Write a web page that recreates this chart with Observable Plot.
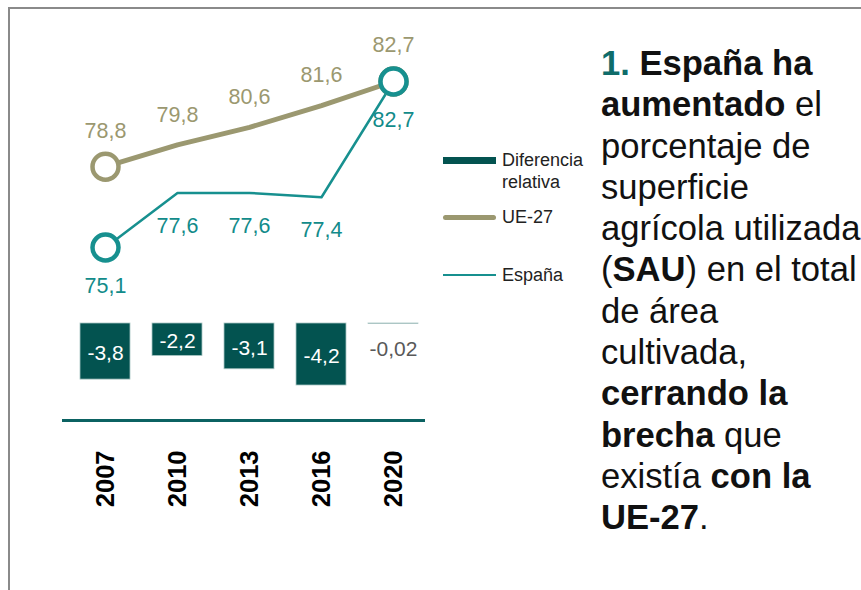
<!DOCTYPE html>
<html>
<head>
<meta charset="utf-8">
<script src="https://cdn.jsdelivr.net/npm/d3@7"></script>
<script src="https://cdn.jsdelivr.net/npm/@observablehq/plot@0.6"></script>
<style>
  html, body { margin: 0; padding: 0; background: #fff; }
  #wrap { position: relative; width: 861px; height: 590px; overflow: hidden; font-family: "Liberation Sans", Arial, sans-serif; }
  #border { position: absolute; left: 8px; top: 7px; right: -5px; bottom: -5px; border-top: 2px solid #8a8a8a; border-left: 2px solid #8a8a8a; }
  .layer { position: absolute; left: 0; top: 0; }
  .legend { position: absolute; font-size: 18px; color: #222; line-height: 22px; white-space: nowrap; }
  .sw { position: absolute; left: 443px; width: 53px; }
  #title { position: absolute; left: 601px; top: 43px; font-size: 34.6px; line-height: 41.3px; color: #111; white-space: nowrap; }
  #title b { font-weight: bold; }
  #title .num { color: #0f6c6a; font-weight: bold; }
</style>
</head>
<body>
<div id="wrap">
  <div id="border"></div>
  <div id="lines" class="layer"></div>
  <div id="bars" class="layer"></div>
  <div class="sw" style="top:157px;height:7px;background:#035350;"></div>
  <div class="legend" style="left:502px;top:149px;">Diferencia<br>relativa</div>
  <div class="sw" style="top:215px;height:4.5px;background:#9b9870;border-radius:3px;"></div>
  <div class="legend" style="left:502px;top:206px;">UE-27</div>
  <div class="sw" style="top:274px;height:2px;background:#17908f;"></div>
  <div class="legend" style="left:502px;top:264px;">España</div>
  <div id="title">
    <span class="num">1.</span> <b>España ha</b><br>
    <b>aumentado</b> el<br>
    porcentaje de<br>
    superficie<br>
    agrícola utilizada<br>
    (<b>SAU</b>) en el total<br>
    de área<br>
    cultivada,<br>
    <b>cerrando la</b><br>
    <b>brecha</b> que<br>
    existía <b>con la</b><br>
    <b>UE-27</b>.
  </div>
</div>
<script>
// ---- Data ----
const years = ["2007", "2010", "2013", "2016", "2020"];
const ue27 = [78.8, 79.8, 80.6, 81.6, 82.7];
const espana = [75.1, 77.6, 77.6, 77.4, 82.7];
const diferencia = [-3.8, -2.2, -3.1, -4.2, -0.02];

// ---- Derived tables ----
const fmt = v => String(v).replace(".", ",");
const ueData = years.map((y, i) => ({year: y, value: ue27[i]}));
const esData = years.map((y, i) => ({year: y, value: espana[i]}));
const diffData = years.map((y, i) => ({year: y, value: diferencia[i]}));
const ends = d => d.year === years[0] || d.year === years[years.length - 1];

const OLIVE = "#9b9870";
const TEAL = "#17908f";
const TEAL_TXT = "#128b8a";
const BAR = "#035350";
const FONT = "Liberation Sans, Arial, sans-serif";

const xScale = {type: "band", domain: years, range: [79, 418], paddingInner: 0.308, paddingOuter: 0, axis: null};

const linePlot = Plot.plot({
  width: 861, height: 590,
  marginLeft: 63, marginRight: 438, marginTop: 60, marginBottom: 300,
  style: {background: "transparent", fontFamily: FONT, overflow: "visible"},
  x: xScale,
  y: {domain: [75.1, 82.7], range: [247, 81], axis: null},
  marks: [
    Plot.line(ueData, {x: "year", y: "value", stroke: OLIVE, strokeWidth: 5, curve: "linear"}),
    Plot.line(esData, {x: "year", y: "value", stroke: TEAL, strokeWidth: 2.5, curve: "linear"}),
    Plot.dot(ueData.filter(ends), {x: "year", y: "value", r: 13, fill: "white", stroke: OLIVE, strokeWidth: 4.5}),
    Plot.dot(esData.filter(ends), {x: "year", y: "value", r: 13, fill: "white", stroke: TEAL, strokeWidth: 4.5}),
    Plot.text(ueData.filter(d => !ends(d)), {x: "year", y: "value", text: d => fmt(d.value), dy: -30, fill: OLIVE, fontSize: 21.5}),
    Plot.text(ueData.filter(ends), {x: "year", y: "value", text: d => fmt(d.value), dy: -36, fill: OLIVE, fontSize: 21.5}),
    Plot.text(esData.filter(d => !ends(d)), {x: "year", y: "value", text: d => fmt(d.value), dy: 33, fill: TEAL_TXT, fontSize: 21.5}),
    Plot.text(esData.filter(ends), {x: "year", y: "value", text: d => fmt(d.value), dy: 39, fill: TEAL_TXT, fontSize: 21.5})
  ]
});
document.getElementById("lines").appendChild(linePlot);

const barPlot = Plot.plot({
  width: 861, height: 590,
  marginLeft: 63, marginRight: 438, marginTop: 300, marginBottom: 170,
  style: {background: "transparent", fontFamily: FONT, overflow: "visible"},
  x: xScale,
  y: {domain: [0, -4.2], range: [323, 385], axis: null},
  marks: [
    Plot.frame({anchor: "bottom", stroke: "#0b6262", strokeWidth: 3}),
    Plot.barY(diffData, {x: "year", y: "value", fill: BAR, stroke: "#a9c5c3", strokeWidth: 0.8}),
    Plot.text(diffData.filter(d => d.value <= -1), {x: "year", y: d => d.value / 2, text: d => fmt(d.value), dy: 2, fill: "white", fontSize: 21}),
    Plot.text(diffData.filter(d => d.value > -1), {x: "year", y: "value", text: d => fmt(d.value), dy: 25, fill: "#595959", fontSize: 21}),
    Plot.axisX({anchor: "bottom", tickSize: 0, tickPadding: 30, tickRotate: -90, fontSize: 25.5, fontWeight: "bold", fill: "black", label: null})
  ]
});
document.getElementById("bars").appendChild(barPlot);
</script>
</body>
</html>
